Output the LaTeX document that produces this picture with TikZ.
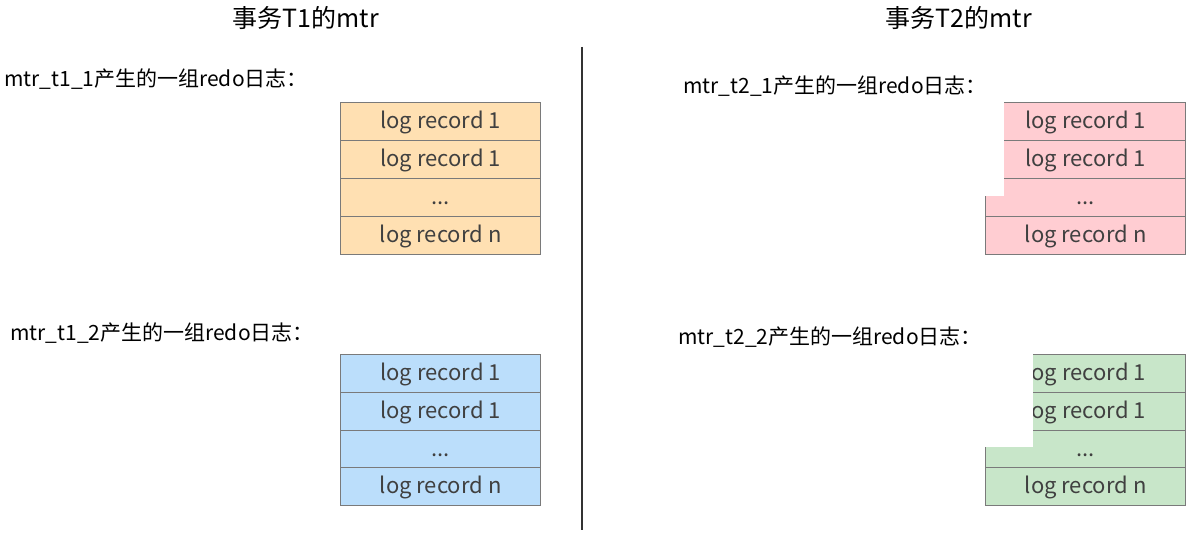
\documentclass[tikz,border=0pt]{standalone}
\usepackage{fontspec}
\setmainfont{Noto Sans CJK SC}
\definecolor{cOrange}{HTML}{FFE0B2}
\definecolor{cPink}{HTML}{FFCDD2}
\definecolor{cBlue}{HTML}{BBDEFB}
\definecolor{cGreen}{HTML}{C8E6C9}
\definecolor{cBorder}{HTML}{7A7A7A}
\definecolor{cText}{HTML}{404040}
\begin{document}
\begin{tikzpicture}[x=1pt,y=-1pt,
  rec/.style={draw=cBorder, line width=1.2pt, minimum width=200pt, minimum height=37.5pt,
    inner sep=0pt, text height=17pt, text depth=3pt, anchor=north west, text=cText,
    font=\fontsize{22}{26}\selectfont},
  title/.style={font=\fontsize{25}{30}\selectfont, inner sep=0pt},
  lbl/.style={font=\fontsize{21}{25}\selectfont, inner sep=0pt, anchor=west},
  cover/.style={fill=white, draw=none}]
\useasboundingbox (0,0) rectangle (1189,535);
\fill[white] (0,0) rectangle (1189,535);
% titles
\node[title] (t1) at (306,18) {事务T1的mtr};
\node[title] (t2) at (959,18) {事务T2的mtr};
% labels
\node[lbl] (l11) at (4,79) {mtr\_t1\_1产生的一组redo日志：};
\node[lbl] (l21) at (683,86) {mtr\_t2\_1产生的一组redo日志：};
\node[lbl] (l12) at (10,333) {mtr\_t1\_2产生的一组redo日志：};
\node[lbl] (l22) at (678,337) {mtr\_t2\_2产生的一组redo日志：};
% orange
\node[rec, fill=cOrange] (o1) at (340,102) {log record 1};
\node[rec, fill=cOrange] (o2) at (340,140) {log record 1};
\node[rec, fill=cOrange] (o3) at (340,178) {...};
\node[rec, fill=cOrange] (o4) at (340,216) {log record n};
% blue
\node[rec, fill=cBlue] (b1) at (340,354) {log record 1};
\node[rec, fill=cBlue] (b2) at (340,392) {log record 1};
\node[rec, fill=cBlue] (b3) at (340,430) {...};
\node[rec, fill=cBlue] (b4) at (340,467) {log record n};
% pink
\node[rec, fill=cPink] (p1) at (985,102) {log record 1};
\node[rec, fill=cPink] (p2) at (985,140) {log record 1};
\node[rec, fill=cPink] (p3) at (985,178) {...};
\node[rec, fill=cPink] (p4) at (985,216) {log record n};
% green
\node[rec, fill=cGreen] (g1) at (985,354) {log record 1};
\node[rec, fill=cGreen] (g2) at (985,392) {log record 1};
\node[rec, fill=cGreen] (g3) at (985,430) {...};
\node[rec, fill=cGreen] (g4) at (985,467) {log record n};
% white covers
\fill[cover] (975,98) rectangle (1003.5,196);
\fill[cover] (975,348) rectangle (1033,447);
% divider
\coordinate (dtop) at (582,47);
\coordinate (dbot) at (582,530);
\draw[line width=2pt, draw=black!80] (dtop) -- (dbot);
\end{tikzpicture}
\end{document}
